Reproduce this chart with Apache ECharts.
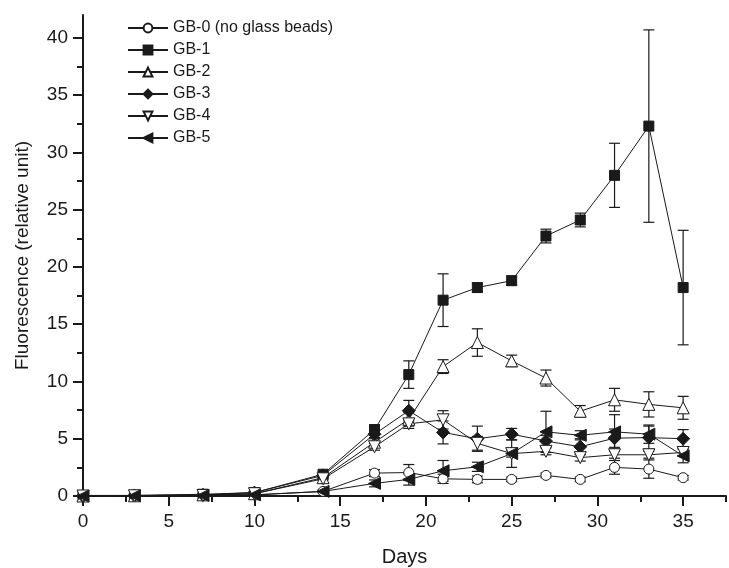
<!DOCTYPE html>
<html>
<head>
<meta charset="utf-8">
<script src="https://cdn.jsdelivr.net/npm/echarts@6/dist/echarts.min.js"></script>
<style>
  html, body { margin: 0; padding: 0; background: #fff; }
  #chart { width: 729px; height: 568px; }
</style>
</head>
<body>
<div id="chart"></div>
<script>
// 数据
var days = [0, 3, 7, 10, 14, 17, 19, 21, 23, 25, 27, 29, 31, 33, 35];

var gb0 = [0, 0.02, 0.05, 0.1, 0.4, 2.0, 2.05, 1.5, 1.45, 1.45, 1.8, 1.45, 2.5, 2.35, 1.6];
var gb1 = [0.05, 0.05, 0.15, 0.3, 1.9, 5.8, 10.6, 17.1, 18.2, 18.8, 22.7, 24.1, 28.0, 32.3, 18.2];
var gb2 = [0, 0.02, 0.1, 0.2, 1.6, 4.7, 6.7, 11.3, 13.4, 11.8, 10.3, 7.4, 8.4, 8.0, 7.7];
var gb3 = [0, 0.05, 0.1, 0.3, 1.8, 5.4, 7.45, 5.55, 5.0, 5.4, 4.8, 4.3, 5.05, 5.1, 5.0];
var gb4 = [0, 0.02, 0.05, 0.2, 1.5, 4.3, 6.3, 6.65, 4.6, 3.7, 3.9, 3.35, 3.6, 3.6, 3.8];
var gb5 = [0, 0.02, 0.05, 0.1, 0.4, 1.1, 1.45, 2.2, 2.55, 3.7, 5.6, 5.3, 5.6, 5.4, 3.5];

// 误差 (SD)
var gb0Err = [0, 0, 0, 0, 0.1, 0.3, 0.7, 0.4, 0.3, 0.2, 0.2, 0.2, 0.6, 0.8, 0.2];
var gb1Err = [0, 0, 0, 0.1, 0.2, 0.4, 1.2, 2.3, 0.4, 0.4, 0.6, 0.6, 2.8, 8.4, 5.0];
var gb2Err = [0, 0, 0, 0, 0.1, 0.3, 0.6, 0.6, 1.2, 0.5, 0.7, 0.5, 1.0, 1.1, 1.0];
var gb3Err = [0, 0, 0, 0, 0.1, 0.3, 0.9, 1.0, 1.1, 0.5, 0.5, 0.7, 0.8, 1.0, 0.8];
var gb4Err = [0, 0, 0, 0, 0.1, 0.3, 0.4, 0.8, 0.6, 0.3, 0.3, 0.3, 0.3, 0.3, 0.3];
var gb5Err = [0, 0, 0, 0, 0.1, 0.3, 0.5, 0.9, 0.4, 1.2, 1.8, 0.4, 1.5, 0.8, 0.6];

var names = ['GB-0 (no glass beads)', 'GB-1', 'GB-2', 'GB-3', 'GB-4', 'GB-5'];

var xTicks = [0, 5, 10, 15, 20, 25, 30, 35];
var yTicks = [0, 5, 10, 15, 20, 25, 30, 35, 40];
var xMinor = [2.5, 7.5, 12.5, 17.5, 22.5, 27.5, 32.5, 37.5];
var yMinor = [2.5, 7.5, 12.5, 17.5, 22.5, 27.5, 32.5, 37.5];

var font = 'Liberation Sans';
var ink = '#1a1a1a';

function pairs(vals) {
    return days.map(function(d, i) { return [d, vals[i]]; });
}

function errData(vals, errs) {
    var out = [];
    for (var i = 0; i < days.length; i++) {
        if (errs[i] > 0) out.push([days[i], vals[i] - errs[i], vals[i] + errs[i]]);
    }
    return out;
}

function renderErr(params, api) {
    var x = api.value(0);
    var lo = api.coord([x, api.value(1)]);
    var hi = api.coord([x, api.value(2)]);
    var w = 5.5;
    var st = { stroke: ink, lineWidth: 1.2 };
    return {
        type: 'group',
        children: [
            { type: 'line', shape: { x1: lo[0], y1: lo[1], x2: hi[0], y2: hi[1] }, style: st },
            { type: 'line', shape: { x1: lo[0] - w, y1: lo[1], x2: lo[0] + w, y2: lo[1] }, style: st },
            { type: 'line', shape: { x1: hi[0] - w, y1: hi[1], x2: hi[0] + w, y2: hi[1] }, style: st }
        ]
    };
}

function lineSeries(name, vals, symbol, filled, rotate, size) {
    return {
        name: name,
        type: 'line',
        data: pairs(vals),
        symbol: symbol,
        symbolSize: size,
        symbolRotate: rotate,
        showAllSymbol: true,
        z: 3,
        lineStyle: { color: ink, width: 1 },
        itemStyle: {
            color: filled ? ink : '#fff',
            borderColor: ink,
            borderWidth: 1
        },
        emphasis: { disabled: true }
    };
}

function errSeries(vals, errs) {
    return {
        type: 'custom',
        renderItem: renderErr,
        data: errData(vals, errs),
        z: 2,
        silent: true
    };
}

var chart = echarts.init(document.getElementById('chart'));

chart.setOption({
    animation: false,
    textStyle: { fontFamily: font, color: ink },
    grid: { left: 83, right: 3, top: 15, bottom: 72, outerBoundsMode: 'none' },
    legend: {
        data: names,
        orient: 'vertical',
        left: 122,
        top: 15,
        itemWidth: 40,
        itemHeight: 11,
        itemGap: 6,
        textStyle: { fontFamily: font, fontSize: 16, color: ink },
        inactiveColor: ink
    },
    xAxis: [{
        type: 'value',
        min: 0,
        max: 37.5,
        interval: 5,
        name: 'Days',
        nameLocation: 'middle',
        nameGap: 51,
        nameTextStyle: { fontSize: 20, color: ink },
        axisLine: { lineStyle: { color: ink, width: 2 } },
        axisTick: { length: 10, customValues: xTicks, lineStyle: { color: ink, width: 2 } },
        axisLabel: { customValues: xTicks, fontSize: 19, color: ink, margin: 16 },
        splitLine: { show: false }
    }, {
        type: 'value',
        min: 0,
        max: 37.5,
        position: 'bottom',
        axisLine: { show: false },
        axisTick: { length: 6, customValues: xMinor, lineStyle: { color: ink, width: 2 } },
        axisLabel: { show: false },
        splitLine: { show: false }
    }],
    yAxis: [{
        type: 'value',
        min: 0,
        max: 42,
        interval: 5,
        name: 'Fluorescence (relative unit)',
        nameLocation: 'middle',
        nameGap: 51,
        nameTextStyle: { fontSize: 19, color: ink },
        axisLine: { show: true, lineStyle: { color: ink, width: 2 } },
        axisTick: { show: true, length: 10, customValues: yTicks, lineStyle: { color: ink, width: 2 } },
        axisLabel: { customValues: yTicks, fontSize: 19, color: ink, margin: 15 },
        splitLine: { show: false }
    }, {
        type: 'value',
        min: 0,
        max: 42,
        position: 'left',
        axisLine: { show: false },
        axisTick: { show: true, length: 6, customValues: yMinor, lineStyle: { color: ink, width: 2 } },
        axisLabel: { show: false },
        splitLine: { show: false }
    }],
    series: [
        errSeries(gb0, gb0Err),
        errSeries(gb1, gb1Err),
        errSeries(gb2, gb2Err),
        errSeries(gb3, gb3Err),
        errSeries(gb4, gb4Err),
        errSeries(gb5, gb5Err),
        lineSeries(names[0], gb0, 'circle', false, 0, 10),
        lineSeries(names[1], gb1, 'rect', true, 0, 10),
        lineSeries(names[2], gb2, 'triangle', false, 0, 12),
        lineSeries(names[3], gb3, 'diamond', true, 0, 13),
        lineSeries(names[4], gb4, 'triangle', false, 180, 12),
        lineSeries(names[5], gb5, 'triangle', true, 90, 12)
    ]
});
</script>
</body>
</html>
